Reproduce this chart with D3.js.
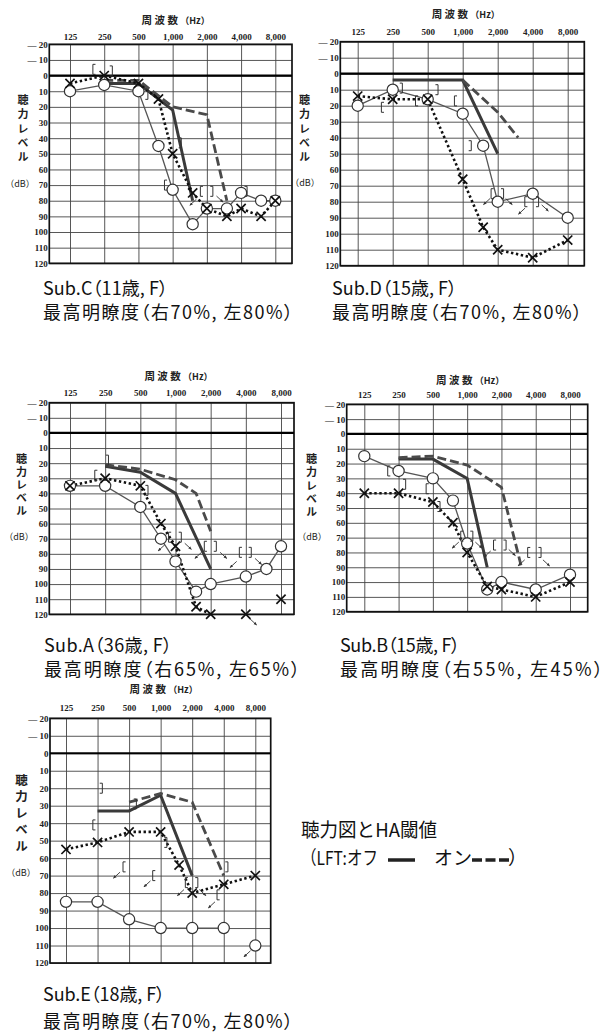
<!DOCTYPE html>
<html>
<head>
<meta charset="utf-8">
<script src="https://cdn.jsdelivr.net/npm/d3@7"></script>
<style>
  body { margin: 0; background: #fff; }
  svg { display: block; }
</style>
</head>
<body>
<div id="vis"></div>
<script>
// Audiograms with hearing-aid thresholds (Sub.A - Sub.E)
const freqs = [125, 250, 500, 1000, 2000, 4000, 8000];
const freqLabels = ["125", "250", "500", "1,000", "2,000", "4,000", "8,000"];
const dbTicks = d3.range(-20, 121, 10);

// ---- Sub.C ----
const subC_right = [[125,10],[250,6],[500,10],[750,45],[1000,73],[1500,95],[2000,85],[3000,85],[4000,75],[6000,80],[8000,80]];
const subC_left = [[125,5],[250,0],[500,5],[750,15],[1000,50],[1500,75],[2000,85],[3000,90],[4000,85],[6000,90],[8000,80]];
const subC_off = [[250,5],[500,5],[1000,22],[1500,80]];
const subC_on = [[250,3],[500,3],[1000,20],[2000,25],[3000,80]];
const subC_brackets = [[204,-4,"["],[287,-3,"]"],[590,12,"]"],[1160,43,"]"],[870,70,"["],[1800,74,"["],[2200,74,"]"],[4400,74,"]"]];
const subC_arrows = [[1620,79,"L"],[2430,77,"R"]];

// ---- Sub.D ----
const subD_right = [[125,20],[250,10],[500,16],[1000,25],[1500,45],[2000,80],[4000,75],[8000,90]];
const subD_left = [[125,14],[250,16],[500,16],[1000,66],[1500,96],[2000,110],[4000,115],[8000,104]];
const subD_off = [[250,4],[1000,4],[2000,50]];
const subD_on = [[1000,4],[2000,24],[3000,40]];
const subD_brackets = [[295,9,"]"],[205,21,"["],[598,10,"]"],[403,17,"["],[871,17,"["],[1155,45,"]"],[1800,75,"["],[2190,75,"]"],[3510,80,"["],[4380,80,"]"]];
const subD_arrows = [[1720,78,"L"],[2340,78,"R"],[3440,84,"L"],[4780,82,"R"]];

// ---- Sub.A ----
const subA_right = [[125,35],[250,35],[500,49],[750,70],[1000,85],[1500,105],[2000,100],[4000,95],[6000,90],[8000,75]];
const subA_left = [[125,35],[250,30],[500,35],[750,60],[1000,75],[1500,115],[2000,120]];
const subA_leftSolo = [[4000,120],[8000,110]];
const subA_off = [[250,22],[500,26],[1000,40],[2000,90]];
const subA_on = [[250,21],[500,24],[1000,31],[1500,40],[2000,65]];
const subA_brackets = [[260,18,"]"],[209,28,"["],[567,38,"]"],[895,69,"["],[1093,69,"]"],[1810,75,"["],[2180,75,"]"],[3610,79,"["],[4340,79,"]"]];
const subA_arrows = [[810,74,"L"],[1200,73,"R"],[1670,79,"L"],[2410,79,"R"],[3340,85,"L"],[4790,83,"R"],[4340,123,"R"]];

// ---- Sub.B ----
const subB_right = [[125,15],[250,25],[500,30],[750,45],[1000,74],[1500,105],[2000,100],[4000,105],[8000,95]];
const subB_left = [[125,40],[250,40],[500,46],[750,60],[1000,80],[1500,103],[2000,105],[4000,110],[8000,100]];
const subB_off = [[250,17],[500,17],[1000,30],[1500,90]];
const subB_on = [[250,16],[500,15],[1000,21],[2000,36],[3000,90]];
const subB_brackets = [[206,25,"["],[281,34,"]"],[448,37,"["],[563,49,"]"],[902,69,"["],[1093,69,"]"],[1750,75,"["],[2140,75,"]"],[3490,80,"["],[4340,80,"]"]];
const subB_arrows = [[845,73,"L"],[1180,73,"R"],[1610,79,"L"],[2320,78,"R"],[3200,85,"L"],[4630,85,"R"]];

// ---- Sub.E ----
const subE_right = [[125,85],[250,85],[500,95],[1000,100],[2000,100],[4000,100]];
const subE_rightSolo = [[8000,110]];
const subE_left = [[125,55],[250,51],[500,45],[1000,45],[1500,64],[2000,80],[4000,75],[8000,70]];
const subE_off = [[250,33],[500,33],[1000,24],[2000,70]];
const subE_on = [[500,28],[1000,23],[2000,28],[4000,70]];
const subE_brackets = [[270,20,"]"],[232,41,"["],[570,29,"]"],[1115,51,"]"],[450,65,"["],[864,70,"["],[1770,74,"["],[2200,74,"]"],[4260,65,"]"],[3550,81,"["]];
const subE_arrows = [[410,68,"L"],[800,73,"L"],[1670,78,"L"],[2340,78,"R"],[3300,85,"L"],[7200,113,"L"]];

// captions
const captions = {
  C: ["Sub.C（11歳, F）", "最高明瞭度（右70%, 左80%）"],
  D: ["Sub.D（15歳, F）", "最高明瞭度（右70%, 左80%）"],
  A: ["Sub.A（36歳, F）", "最高明瞭度（右65%, 左65%）"],
  B: ["Sub.B（15歳, F）", "最高明瞭度（右55%, 左45%）"],
  E: ["Sub.E（18歳, F）", "最高明瞭度（右70%, 左80%）"]
};
const yLabel = "聴力レベル";

const width = 607;
const height = 1035;
const serif = "'Liberation Serif', 'DejaVu Serif', serif";
const sans = "'Noto Sans CJK JP', 'Noto Sans', sans-serif";

const svg = d3.select("#vis")
  .append("svg")
  .attr("width", width)
  .attr("height", height);

// arrow head for out-of-scale marks
svg.append("defs").append("marker")
  .attr("id", "ah")
  .attr("viewBox", "0 0 10 10")
  .attr("refX", 8).attr("refY", 5)
  .attr("markerWidth", 4).attr("markerHeight", 4)
  .attr("orient", "auto")
  .append("path")
  .attr("d", "M0,1 L10,5 L0,9 Z")
  .attr("fill", "#333");

// panel frames (pixel layout)
const panels = [
  { key: "C", right: subC_right, left: subC_left, off: subC_off, on: subC_on, br: subC_brackets, ar: subC_arrows,
    box: [49.3, 292, 44.3, 263.3], x125: 70, x8000: 275.3, freqPad: 4.5, titleY: 24,
    ylabX: 23, ylabTop: 100, ylabStep: 14.25, ylabSize: 11,
    dbX: 20, dbY: 184, capX: 43, capY: 294.5, capGap: 24, capW: [125, 250] },
  { key: "D", right: subD_right, left: subD_left, off: subD_off, on: subD_on, br: subD_brackets, ar: subD_arrows,
    box: [340.3, 584.3, 41.7, 265.7], x125: 357.7, x8000: 567.7, freqPad: 6.5, titleY: 28,
    ylabX: 304.5, ylabTop: 100, ylabStep: 14.25, ylabSize: 11,
    dbX: 305, dbY: 183, capX: 332, capY: 294.5, capGap: 24, capW: [125, 250] },
  { key: "A", right: subA_right, left: subA_left, leftSolo: subA_leftSolo, off: subA_off, on: subA_on, br: subA_brackets, ar: subA_arrows,
    box: [49.3, 294, 402.7, 614.3], x125: 70, x8000: 281, freqPad: 6.5, titleY: 27,
    ylabX: 21.5, ylabTop: 459, ylabStep: 13, ylabSize: 11,
    dbX: 19, dbY: 537, capX: 44, capY: 651.5, capGap: 24, capW: [128, 256] },
  { key: "B", right: subB_right, left: subB_left, off: subB_off, on: subB_on, br: subB_brackets, ar: subB_arrows,
    box: [346.7, 587.7, 404.3, 611.7], x125: 364.3, x8000: 570, freqPad: 6, titleY: 24,
    ylabX: 311.5, ylabTop: 459, ylabStep: 13.25, ylabSize: 11,
    dbX: 312, dbY: 537, capX: 340, capY: 651.5, capGap: 24, capW: [120, 263] },
  { key: "E", right: subE_right, rightSolo: subE_rightSolo, left: subE_left, off: subE_off, on: subE_on, br: subE_brackets, ar: subE_arrows,
    box: [50, 270.7, 718.3, 963], x125: 66, x8000: 255.3, freqPad: 7, titleY: 29,
    ylabX: 21.5, ylabTop: 780, ylabStep: 16.5, ylabSize: 12.5,
    dbX: 21, dbY: 873, capX: 43, capY: 1001, capGap: 26.5, capW: [122, 250] }
];

function xMark(g, px, py) {
  const s = 4.6;
  g.append("path")
    .attr("d", `M${px - s},${py - s}L${px + s},${py + s}M${px - s},${py + s}L${px + s},${py - s}`)
    .attr("stroke", "#111")
    .attr("stroke-width", 1.7)
    .attr("fill", "none");
}

function drawPanel(p) {
  const [L, R, T, B] = p.box;
  const g = svg.append("g").attr("class", "panel-" + p.key);

  const x = d3.scaleLog().base(2).domain([125, 8000]).range([p.x125, p.x8000]);
  const y = d3.scaleLinear().domain([-20, 120]).range([T, B]);
  const line = d3.line().x(d => x(d[0])).y(d => y(d[1]));

  // horizontal grid
  g.append("g")
    .attr("transform", `translate(${L},0)`)
    .call(d3.axisLeft(y).tickValues(dbTicks).tickSize(-(R - L)).tickFormat(""))
    .call(a => a.select(".domain").remove())
    .selectAll("line")
    .attr("stroke", "#444")
    .attr("stroke-width", 0.9);

  // vertical grid
  g.append("g")
    .attr("transform", `translate(0,${B})`)
    .call(d3.axisBottom(x).tickValues(freqs).tickSize(-(B - T)).tickFormat(""))
    .call(a => a.select(".domain").remove())
    .selectAll("line")
    .attr("stroke", "#444")
    .attr("stroke-width", 0.9);

  // frame + 0 dB line
  g.append("rect")
    .attr("x", L).attr("y", T)
    .attr("width", R - L).attr("height", B - T)
    .attr("fill", "none")
    .attr("stroke", "#111")
    .attr("stroke-width", 1.7);

  g.append("line")
    .attr("x1", L).attr("x2", R)
    .attr("y1", y(0)).attr("y2", y(0))
    .attr("stroke", "#000")
    .attr("stroke-width", 2.2);

  // dB tick labels
  g.append("g")
    .attr("transform", `translate(${L - 1.5},0)`)
    .call(d3.axisLeft(y).tickValues(dbTicks).tickSize(0).tickPadding(0)
      .tickFormat(d => d < 0 ? "— " + (-d) : d))
    .call(a => a.select(".domain").remove())
    .selectAll("text")
    .attr("font-family", serif)
    .attr("font-size", 9)
    .attr("font-weight", "bold")
    .attr("fill", "#222");

  // frequency tick labels
  g.append("g")
    .attr("transform", `translate(0,${T - p.freqPad})`)
    .call(d3.axisTop(x).tickValues(freqs).tickSize(0).tickPadding(0)
      .tickFormat((d, i) => freqLabels[i]))
    .call(a => a.select(".domain").remove())
    .selectAll("text")
    .attr("font-family", serif)
    .attr("font-size", 9)
    .attr("font-weight", "bold")
    .attr("fill", "#222");

  // axis title
  const title = g.append("text")
    .attr("x", x(1000) + 3)
    .attr("y", T - p.titleY + 4)
    .attr("text-anchor", "middle")
    .attr("font-family", sans)
    .attr("font-weight", "bold")
    .attr("fill", "#222");
  title.append("tspan").attr("font-size", 10.5).text("周 波 数 ");
  title.append("tspan").attr("font-size", 9).text("（Hz）");

  // vertical y label
  g.append("text")
    .attr("x", p.ylabX)
    .attr("y", p.ylabTop - p.ylabSize / 2)
    .style("writing-mode", "vertical-rl")
    .attr("font-family", sans)
    .attr("font-weight", "bold")
    .attr("font-size", p.ylabSize)
    .attr("letter-spacing", p.ylabStep - p.ylabSize)
    .attr("fill", "#222")
    .text(yLabel);

  g.append("text")
    .attr("x", p.dbX)
    .attr("y", p.dbY)
    .attr("dy", "0.35em")
    .attr("text-anchor", "middle")
    .attr("font-family", sans)
    .attr("font-size", 9)
    .attr("fill", "#222")
    .text("（dB）");

  // LFT off / on thresholds
  g.append("path")
    .datum(p.off)
    .attr("d", line)
    .attr("fill", "none")
    .attr("stroke", "#3a3a3a")
    .attr("stroke-width", 3);

  g.append("path")
    .datum(p.on)
    .attr("d", line)
    .attr("fill", "none")
    .attr("stroke", "#4a4a4a")
    .attr("stroke-width", 2.8)
    .attr("stroke-dasharray", "9,4");

  // right ear (O) line
  g.append("path")
    .datum(p.right)
    .attr("d", line)
    .attr("fill", "none")
    .attr("stroke", "#555")
    .attr("stroke-width", 1.3);

  // left ear (X) dotted line
  g.append("path")
    .datum(p.left)
    .attr("d", line)
    .attr("fill", "none")
    .attr("stroke", "#111")
    .attr("stroke-width", 2.6)
    .attr("stroke-dasharray", "2.4,2.6");

  // circles
  g.selectAll("circle.o")
    .data(p.right.concat(p.rightSolo || []))
    .enter()
    .append("circle")
    .attr("class", "o")
    .attr("cx", d => x(d[0]))
    .attr("cy", d => y(d[1]))
    .attr("r", 5.6)
    .attr("fill", "#fff")
    .attr("stroke", "#333")
    .attr("stroke-width", 1.2);

  // crosses
  p.left.concat(p.leftSolo || []).forEach(d => xMark(g, x(d[0]), y(d[1])));

  // bone conduction brackets
  g.selectAll("path.br")
    .data(p.br)
    .enter()
    .append("path")
    .attr("class", "br")
    .attr("d", d => {
      const cx = x(d[0]), cy = y(d[1]);
      const w = d[2] === "[" ? 2.6 : -2.6;
      return `M${cx + w / 2},${cy - 5}H${cx - w / 2}V${cy + 5}H${cx + w / 2}`;
    })
    .attr("fill", "none")
    .attr("stroke", "#333")
    .attr("stroke-width", 1);

  // scale-out arrows
  g.selectAll("line.ar")
    .data(p.ar)
    .enter()
    .append("line")
    .attr("class", "ar")
    .attr("x1", d => x(d[0]))
    .attr("y1", d => y(d[1]))
    .attr("x2", d => x(d[0]) + (d[2] === "L" ? -6.5 : 6.5))
    .attr("y2", d => y(d[1]) + 6)
    .attr("stroke", "#333")
    .attr("stroke-width", 0.9)
    .attr("marker-end", "url(#ah)");

  // caption
  const cap = captions[p.key];
  [0, 1].forEach(i => {
    svg.append("text")
      .attr("x", p.capX)
      .attr("y", p.capY + i * p.capGap)
      .attr("font-family", sans)
      .attr("font-size", 18)
      .attr("fill", "#111")
      .style("font-feature-settings", "'palt'")
      .attr("textLength", p.capW[i])
      .attr("lengthAdjust", "spacing")
      .text(cap[i]);
  });
}

panels.forEach(drawPanel);

// Legend
svg.append("text")
  .attr("x", 301)
  .attr("y", 837)
  .attr("font-family", sans)
  .attr("font-size", 19)
  .attr("fill", "#111")
  .attr("textLength", 136)
  .attr("lengthAdjust", "spacingAndGlyphs")
  .text("聴力図とHA閾値");

svg.append("text")
  .attr("x", 301)
  .attr("y", 865)
  .attr("font-family", sans)
  .attr("font-size", 19)
  .attr("fill", "#111")
  .attr("textLength", 77)
  .attr("lengthAdjust", "spacingAndGlyphs")
  .text("（LFT:オフ");

svg.append("line")
  .attr("x1", 388).attr("x2", 415)
  .attr("y1", 860).attr("y2", 860)
  .attr("stroke", "#222")
  .attr("stroke-width", 3.5);

svg.append("text")
  .attr("x", 434)
  .attr("y", 865)
  .attr("font-family", sans)
  .attr("font-size", 19)
  .attr("fill", "#111")
  .text("オン");

svg.append("line")
  .attr("x1", 472).attr("x2", 510)
  .attr("y1", 860).attr("y2", 860)
  .attr("stroke", "#222")
  .attr("stroke-width", 3.5)
  .attr("stroke-dasharray", "10,3.5");

svg.append("text")
  .attr("x", 508)
  .attr("y", 865)
  .attr("font-family", sans)
  .attr("font-size", 19)
  .attr("fill", "#111")
  .text("）");
</script>
</body>
</html>
